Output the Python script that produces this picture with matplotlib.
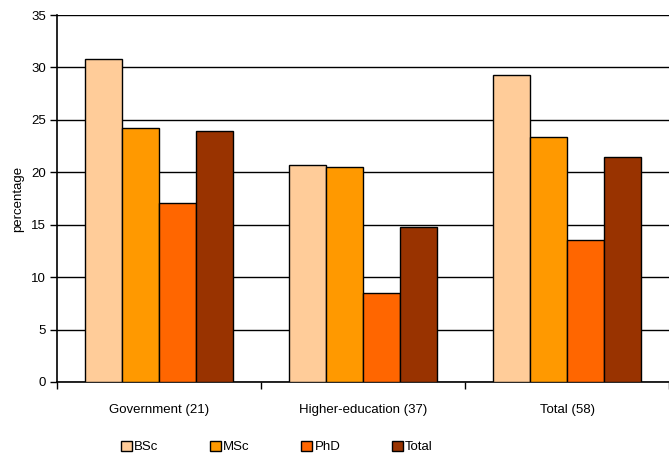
import numpy as np
import matplotlib.pyplot as plt

plt.rcParams['font.family'] = ['Liberation Sans', 'DejaVu Sans']

categories = ['Government (21)', 'Higher-education (37)', 'Total (58)']
series = ['BSc', 'MSc', 'PhD', 'Total']
bsc = [30.8, 20.7, 29.3]
msc = [24.2, 20.5, 23.4]
phd = [17.1, 8.5, 13.5]
total = [23.9, 14.8, 21.5]
colors = ['#FFCC99', '#FF9900', '#FF6600', '#993300']


def main():
    fig = plt.figure(figsize=(6.69, 4.55), dpi=100)
    ax = fig.add_axes([57 / 669, 1 - 382 / 455, 612 / 669, 367 / 455])

    x = np.arange(len(categories))
    w = 1 / 5.5
    for i, (name, vals) in enumerate(zip(series, [bsc, msc, phd, total])):
        ax.bar(x + (i - 1.5) * w, vals, w, color=colors[i], edgecolor='black',
               linewidth=1.0, label=name, zorder=3)

    ax.set_xlim(-0.5, len(categories) - 0.5)
    ax.set_ylim(0, 35)
    ax.set_yticks(range(0, 36, 5))
    ax.yaxis.grid(True, color='black', linewidth=1.0, zorder=0)
    ax.set_axisbelow(True)

    # category labels sit between the boundary ticks
    ax.set_xticks(np.arange(-0.5, len(categories)), minor=False)
    ax.set_xticklabels([])
    ax.set_xticks(x, minor=True)
    ax.set_xticklabels(categories, minor=True, fontsize=9.5)
    ax.tick_params(axis='x', which='minor', length=0, pad=16)
    ax.tick_params(axis='x', which='major', length=5, width=1, direction='out')
    ax.tick_params(axis='y', length=5, width=1, direction='out', labelsize=9.5, pad=3)

    for s in ['top', 'right']:
        ax.spines[s].set_visible(False)
    ax.spines['left'].set_linewidth(1.2)
    ax.spines['bottom'].set_linewidth(1.2)

    ax.set_ylabel('percentage', fontsize=9.5, labelpad=5)

    fig.legend(loc='center', bbox_to_anchor=(277 / 669, 1 - 447 / 455), ncol=4,
               frameon=False, fontsize=9.5, handlelength=0.8, handleheight=0.8,
               handletextpad=0.2, columnspacing=3.9, borderpad=0)

    fig.savefig('out.png', dpi=100)


if __name__ == '__main__':
    main()
